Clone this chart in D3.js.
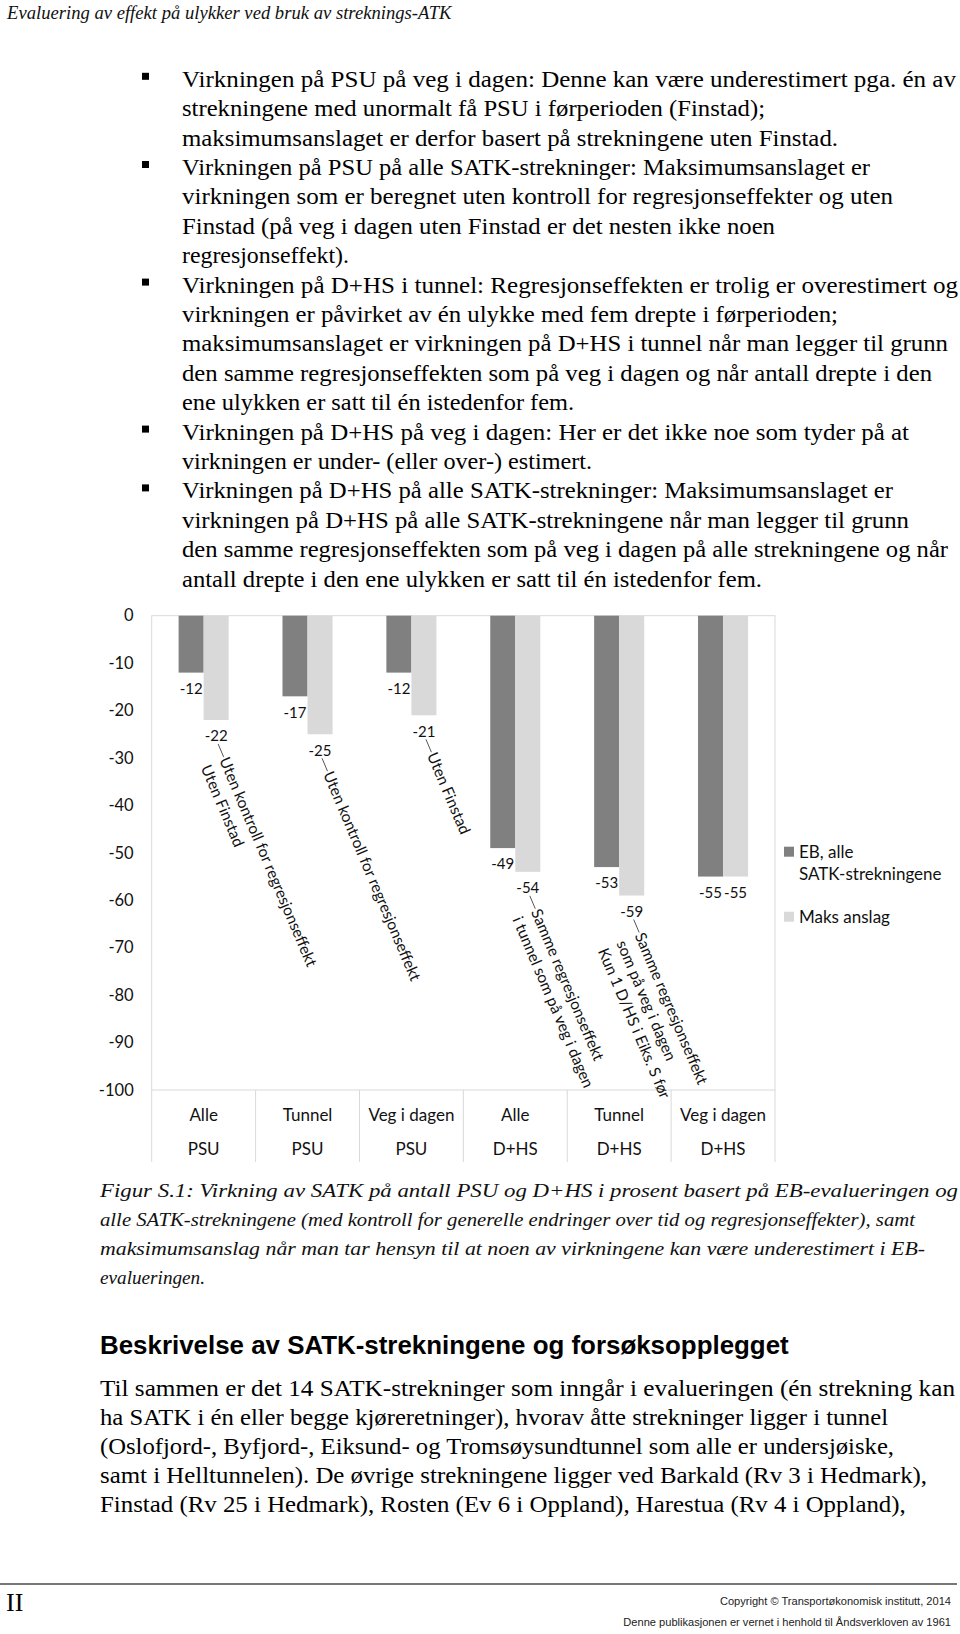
<!DOCTYPE html>
<html><head><meta charset="utf-8">
<script src="https://cdn.jsdelivr.net/npm/d3@7"></script>
<style>body{margin:0;background:#fff}svg{display:block}</style>
</head><body>
<svg id="c" width="960" height="1634"></svg>
<script>
// ---------- data ----------
const categories = ["Alle","Tunnel","Veg i dagen","Alle","Tunnel","Veg i dagen"];
const groups = ["PSU","PSU","PSU","D+HS","D+HS","D+HS"];
const seriesNames = [["EB, alle","SATK-strekningene"],["Maks anslag"]];
const ebValues = [-12,-17,-12,-49,-53,-55];
const maxValues = [-22,-25,-21,-54,-59,-55];
const yTicks = [0,-10,-20,-30,-40,-50,-60,-70,-80,-90,-100];
const annotations = [
  ["Uten kontroll for regresjonseffekt","Uten Finstad"],
  ["Uten kontroll for regresjonseffekt"],
  ["Uten Finstad"],
  ["Samme regresjonseffekt","i tunnel som på veg i dagen"],
  ["Samme regresjonseffekt","som på veg i dagen","Kun 1 D/HS i Eiks. S før"],
  []
];
const headerText = "Evaluering av effekt på ulykker ved bruk av streknings-ATK";
const bullets = [
  ["Virkningen på PSU på veg i dagen: Denne kan være underestimert pga. én av",
   "strekningene med unormalt få PSU i førperioden (Finstad);",
   "maksimumsanslaget er derfor basert på strekningene uten Finstad."],
  ["Virkningen på PSU på alle SATK-strekninger: Maksimumsanslaget er",
   "virkningen som er beregnet uten kontroll for regresjonseffekter og uten",
   "Finstad (på veg i dagen uten Finstad er det nesten ikke noen",
   "regresjonseffekt)."],
  ["Virkningen på D+HS i tunnel: Regresjonseffekten er trolig er overestimert og",
   "virkningen er påvirket av én ulykke med fem drepte i førperioden;",
   "maksimumsanslaget er virkningen på D+HS i tunnel når man legger til grunn",
   "den samme regresjonseffekten som på veg i dagen og når antall drepte i den",
   "ene ulykken er satt til én istedenfor fem."],
  ["Virkningen på D+HS på veg i dagen: Her er det ikke noe som tyder på at",
   "virkningen er under- (eller over-) estimert."],
  ["Virkningen på D+HS på alle SATK-strekninger: Maksimumsanslaget er",
   "virkningen på D+HS på alle SATK-strekningene når man legger til grunn",
   "den samme regresjonseffekten som på veg i dagen på alle strekningene og når",
   "antall drepte i den ene ulykken er satt til én istedenfor fem."]
];
const captionLines = [
  "Figur S.1: Virkning av SATK på antall PSU og D+HS i prosent basert på EB-evalueringen og",
  "alle SATK-strekningene (med kontroll for generelle endringer over tid og regresjonseffekter), samt",
  "maksimumsanslag når man tar hensyn til at noen av virkningene kan være underestimert i EB-",
  "evalueringen."
];
const headingText = "Beskrivelse av SATK-strekningene og forsøksopplegget";
const paragraphLines = [
  "Til sammen er det 14 SATK-strekninger som inngår i evalueringen (én strekning kan",
  "ha SATK i én eller begge kjøreretninger), hvorav åtte strekninger ligger i tunnel",
  "(Oslofjord-, Byfjord-, Eiksund- og Tromsøysundtunnel som alle er undersjøiske,",
  "samt i Helltunnelen). De øvrige strekningene ligger ved Barkald (Rv 3 i Hedmark),",
  "Finstad (Rv 25 i Hedmark), Rosten (Ev 6 i Oppland), Harestua (Rv 4 i Oppland),"
];
const footerPage = "II";
const footerLines = ["Copyright © Transportøkonomisk institutt, 2014",
                     "Denne publikasjonen er vernet i henhold til Åndsverkloven av 1961"];

// ---------- layout: right ends of typeset lines (px), null = keep proportion ----------
const bulletLineEnds = [956,765,838, 870,893,775,349, 958,838,948,932,574, 909,592, 893,909,948,762];
const captionLineEnds = [958,915,925,205];
const paragraphLineEnds = [955,888,894,null,null];

(function () {
const svg = d3.select("#c");
const SERIF = "'Liberation Serif','Times New Roman',serif";
const SANS = "'Liberation Sans',Arial,sans-serif";
const CHART = "Lato,'Open Sans',sans-serif";
function fitSize(text, family, weight, style, target, base) {
  const t = svg.append("text").attr("font-family", family).attr("font-weight", weight)
    .attr("font-style", style).attr("font-size", base).text(text);
  const w = t.node().getComputedTextLength();
  t.remove();
  return base * target / w;
}
// write a block of lines, each stretched to its measured right end
function block(lines, ends, x, y0, step, font) {
  const nodes = lines.map((l, k) => svg.append("text").attr("x", x).attr("y", y0(k))
      .attr("font-family", font.family).attr("font-size", font.size)
      .attr("font-style", font.style || "normal").attr("fill", font.fill || "#000").text(l));
  const ratios = [];
  nodes.forEach((n, k) => { if (ends[k] != null) ratios.push((ends[k] - x) / n.node().getComputedTextLength()); });
  const r = d3.mean(ratios);
  nodes.forEach((n, k) => {
    const w = ends[k] != null ? ends[k] - x : n.node().getComputedTextLength() * r;
    n.attr("textLength", w).attr("lengthAdjust", "spacingAndGlyphs");
  });
}

// header
const hs = fitSize(headerText, SERIF, "normal", "italic", 445, 20);
svg.append("text").attr("x", 7).attr("y", 19).attr("font-family", SERIF)
  .attr("font-style", "italic").attr("font-size", hs).attr("fill", "#111").text(headerText);

// bullets
const flat = [];
let li = 0;
bullets.forEach(b => {
  svg.append("rect").attr("x", 142).attr("y", 86.8 + 29.4 * li - 14).attr("width", 7).attr("height", 7).attr("fill", "#000");
  b.forEach(line => { flat.push(line); li++; });
});
block(flat, bulletLineEnds, 182, k => 86.8 + 29.4 * k, 29.4, {family: SERIF, size: 23.5});

// ---------- chart ----------
const pL = 151.7, pR = 775, pT = 615.7, pB = 1090;
const x0 = d3.scaleBand().domain(d3.range(categories.length)).range([pL, pR]);
const bw = x0.bandwidth();
const x1 = d3.scaleBand().domain([0, 1]).range([bw * 0.259, bw * 0.741]);
const y = d3.scaleLinear().domain([0, -100]).range([pT, pB]);
const colors = ["#808080", "#d9d9d9"];
const series = [ebValues, maxValues];

const g = svg.append("g");
g.append("rect").attr("x", pL).attr("y", pT).attr("width", pR - pL).attr("height", pB - pT)
  .attr("fill", "none").attr("stroke", "#d9d9d9").attr("stroke-width", 1);
d3.range(categories.length + 1).forEach(i => {
  const xx = i < categories.length ? x0(i) : pR;
  g.append("line").attr("x1", xx).attr("x2", xx).attr("y1", pB).attr("y2", 1162)
    .attr("stroke", "#d9d9d9").attr("stroke-width", 1);
});

const ya = g.append("g").attr("transform", `translate(${pL},0)`)
  .call(d3.axisLeft(y).tickValues(yTicks).tickSize(0).tickPadding(18).tickFormat(d => String(d)));
ya.select(".domain").remove();
ya.selectAll("text").attr("font-family", CHART).attr("font-size", 16.5).attr("fill", "#111");

series.forEach((vals, s) => {
  g.selectAll(".bar" + s).data(vals).join("rect").attr("class", "bar" + s)
    .attr("x", (d, i) => x0(i) + x1(s)).attr("y", y(0))
    .attr("width", x1.bandwidth()).attr("height", d => y(d) - y(0))
    .attr("fill", colors[s]);
});
series.forEach((vals, s) => {
  g.selectAll(".lab" + s).data(vals).join("text").attr("class", "lab" + s)
    .attr("x", (d, i) => x0(i) + x1(s) + x1.bandwidth() / 2)
    .attr("y", d => y(d) + 16).attr("dy", "0.35em")
    .attr("text-anchor", "middle").attr("font-family", CHART).attr("font-size", 15)
    .attr("fill", "#111").text(d => String(d));
});

const ang = 67, rad = ang * Math.PI / 180;
const dx = Math.cos(rad), dy = Math.sin(rad);
maxValues.forEach((v, i) => {
  const lines = annotations[i];
  if (!lines.length) return;
  const cx = x0(i) + x1(1) + x1.bandwidth() / 2, cy = y(v) + 16;
  const sx = cx + 2, sy = cy + 8;
  g.append("line").attr("x1", sx).attr("y1", sy).attr("x2", sx + dx * 14).attr("y2", sy + dy * 14)
    .attr("stroke", "#555").attr("stroke-width", 1);
  const ax = sx + dx * 15, ay = sy + dy * 15;
  const t = g.append("text").attr("transform", `translate(${ax},${ay}) rotate(${ang})`)
    .attr("font-family", CHART).attr("font-size", 15.5).attr("fill", "#111");
  lines.forEach((l, k) => {
    t.append("tspan").attr("x", 0).attr("y", k * 20).attr("dy", "0.35em").text(l);
  });
});

categories.forEach((c, i) => {
  g.append("text").attr("x", x0(i) + bw / 2).attr("y", 1115).attr("dy", "0.35em")
    .attr("text-anchor", "middle").attr("font-family", CHART).attr("font-size", 17).attr("fill", "#111").text(c);
  g.append("text").attr("x", x0(i) + bw / 2).attr("y", 1149).attr("dy", "0.35em")
    .attr("text-anchor", "middle").attr("font-family", CHART).attr("font-size", 17).attr("fill", "#111").text(groups[i]);
});

const legY = [846.7, 911.7];
seriesNames.forEach((names, s) => {
  g.append("rect").attr("x", 784).attr("y", legY[s]).attr("width", 10).attr("height", 10).attr("fill", colors[s]);
  names.forEach((n, k) => {
    g.append("text").attr("x", 799).attr("y", legY[s] + 5 + k * 22.3).attr("dy", "0.35em")
      .attr("font-family", CHART).attr("font-size", 17).attr("fill", "#111").text(n);
  });
});

// caption
block(captionLines, captionLineEnds, 100, k => 1197 + 29 * k, 29, {family: SERIF, size: 19.5, style: "italic", fill: "#111"});

// heading
const hds = fitSize(headingText, SANS, "bold", "normal", 689, 22);
svg.append("text").attr("x", 100).attr("y", 1354).attr("font-family", SANS).attr("font-weight", "bold")
  .attr("font-size", hds).attr("fill", "#000").text(headingText);

// paragraph
block(paragraphLines, paragraphLineEnds, 100, k => 1396 + 29 * k, 29, {family: SERIF, size: 24});

// footer
svg.append("line").attr("x1", 0).attr("x2", 957).attr("y1", 1584).attr("y2", 1584)
  .attr("stroke", "#777").attr("stroke-width", 2);
svg.append("text").attr("x", 6).attr("y", 1611).attr("font-family", SERIF).attr("font-size", 26)
  .attr("fill", "#000").text(footerPage);
const fs = fitSize(footerLines[1], SANS, "normal", "normal", 328, 12);
footerLines.forEach((l, k) => {
  svg.append("text").attr("x", 951).attr("y", 1605 + 21 * k).attr("text-anchor", "end")
    .attr("font-family", SANS).attr("font-size", fs).attr("fill", "#222").text(l);
});
})();
</script>
</body></html>
